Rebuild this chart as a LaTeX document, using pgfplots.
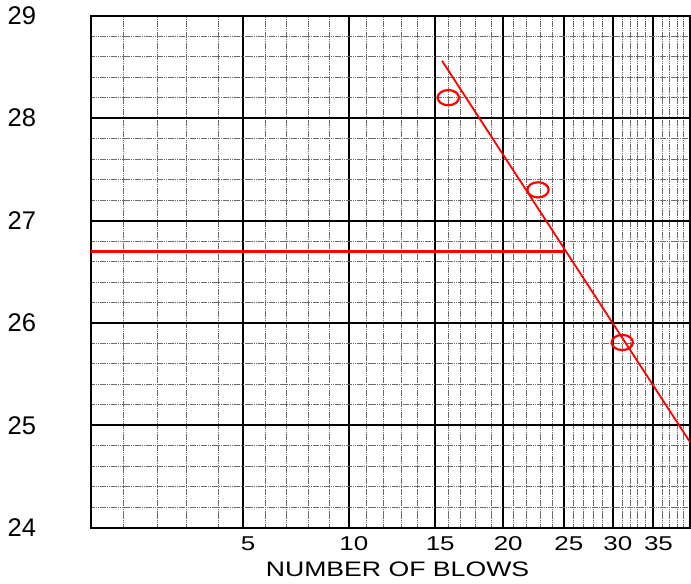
\documentclass[border=0pt]{standalone}
\usepackage{pgfplots}
\pgfplotsset{compat=1.18}
\usepackage{fontspec}
\setmainfont{Liberation Sans}
\begin{document}
\begin{tikzpicture}
\begin{axis}[
  scale only axis, width=299.85pt, height=256.5pt,
  xmin=0, xmax=40, ymin=24, ymax=29,
  x coord trafo/.code={\pgfmathparse{91.3
    +32.4*min(max(#1-0,0),1)+33.6*min(max(#1-1,0),1)+29.4*min(max(#1-2,0),1)+32.0*min(max(#1-3,0),1)+24.6*min(max(#1-4,0),1)
    +22.4*min(max(#1-5,0),1)+21.6*min(max(#1-6,0),1)+21.7*min(max(#1-7,0),1)+21.0*min(max(#1-8,0),1)+19.3*min(max(#1-9,0),1)
    +17.4*min(max(#1-10,0),1)+17.6*min(max(#1-11,0),1)+18.0*min(max(#1-12,0),1)+16.0*min(max(#1-13,0),1)+17.4*min(max(#1-14,0),1)
    +13.3*min(max(#1-15,0),1)+12.0*min(max(#1-16,0),1)+15.7*min(max(#1-17,0),1)+15.6*min(max(#1-18,0),1)+11.5*min(max(#1-19,0),1)
    +10.2*min(max(#1-20,0),1)+13.7*min(max(#1-21,0),1)+14.0*min(max(#1-22,0),1)+11.6*min(max(#1-23,0),1)+11.3*min(max(#1-24,0),1)
    +9.4*min(max(#1-25,0),1)+10.0*min(max(#1-26,0),1)+10.3*min(max(#1-27,0),1)+9.0*min(max(#1-28,0),1)+10.3*min(max(#1-29,0),1)
    +9.7*min(max(#1-30,0),1)+8.4*min(max(#1-31,0),1)+7.3*min(max(#1-32,0),1)+7.7*min(max(#1-33,0),1)+7.6*min(max(#1-34,0),1)
    +9.0*min(max(#1-35,0),1)+7.7*min(max(#1-36,0),1)+7.3*min(max(#1-37,0),1)+6.7*min(max(#1-38,0),1)+6.0*min(max(#1-39,0),1)}},
  xtick={5,10,15,20,25,30,35},
  xticklabels={5,10,15,20,25,30,35},
  minor xtick={1,2,3,4,6,7,8,9,11,12,13,14,16,17,18,19,21,22,23,24,26,27,28,29,31,32,33,34,36,37,38,39},
  ytick={24,25,26,27,28,29},
  yticklabels={24,25,26,27,28,29},
  minor y tick num=4,
  grid=both,
  major grid style={black, line width=1pt},
  minor grid style={gray!85!black, line width=0.5pt, dash pattern=on 0.8pt off 0.3pt},
  axis line style={black, line width=1.1pt},
  major tick length=0pt, minor tick length=0pt,
  xticklabel style={font=\fontsize{10}{12}\selectfont, xscale=1.3, anchor=center, yshift=-8pt, xshift=2pt},
  yticklabel style={font=\fontsize{12.8}{14}\selectfont, anchor=center, xshift=-34.65pt},
  xlabel={NUMBER OF BLOWS},
  xlabel style={font=\fontsize{10.5}{12}\selectfont, xscale=1.27, at={(axis description cs:0.5,0)}, anchor=center, yshift=-20.6pt, xshift=2.75pt},
]
\addplot[red, line width=1.6pt] coordinates {(0,26.7) (25,26.7)};
\addplot[red, line width=0.9pt] coordinates {(15.53,28.56) (40,24.84)};
\addplot[only marks, mark=o, mark size=3.8pt, red, mark options={xscale=1.4, line width=1.1pt}] coordinates {(16,28.20) (22.8,27.30) (31,25.81)};
\coordinate (sw) at (rel axis cs:0,0);
\coordinate (ne) at (rel axis cs:1,1);
\end{axis}
\path ([xshift=-45.65pt,yshift=-24.5pt]sw) rectangle ([yshift=6.5pt]ne);
\end{tikzpicture}
\end{document}
